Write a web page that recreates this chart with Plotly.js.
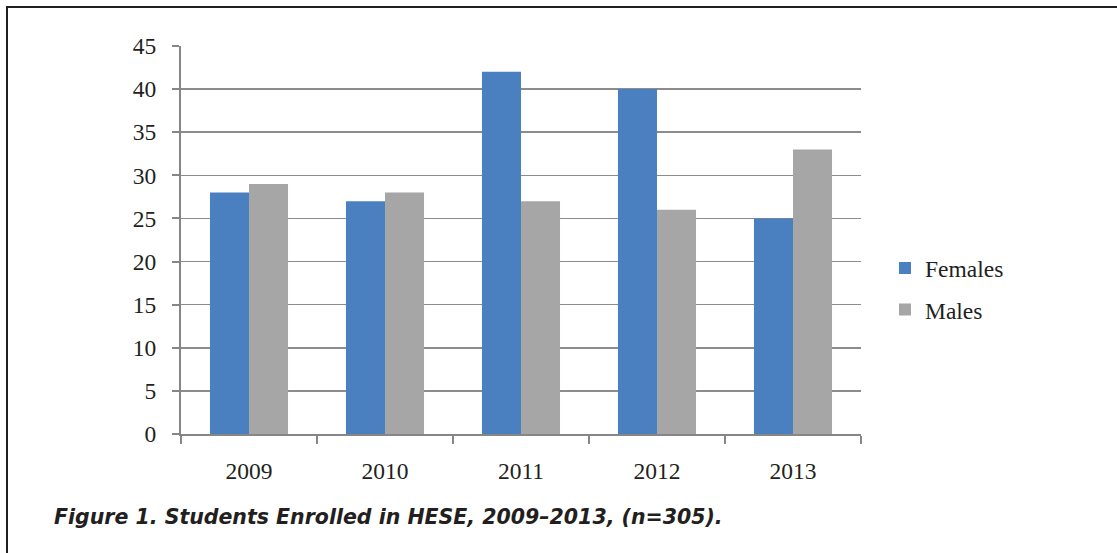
<!DOCTYPE html>
<html>
<head>
<meta charset="utf-8">
<script src="https://cdn.plot.ly/plotly-3.0.1.min.js"></script>
<style>
  html, body { margin: 0; padding: 0; background: #fff; }
  #wrap { position: relative; width: 1117px; height: 553px; overflow: hidden; }
  #chart { position: absolute; left: 0; top: 0; width: 1117px; height: 553px; }
  #frame { position: absolute; left: 6px; top: 6px; width: 1200px; height: 700px;
           border-top: 2px solid #231f20; border-left: 2px solid #231f20; pointer-events: none; }
</style>
</head>
<body>
<div id="wrap">
  <div id="chart"></div>
  <div id="frame"></div>
</div>
<script>
const years = ['2009', '2010', '2011', '2012', '2013'];
const females = [28, 27, 42, 40, 25];
const males = [29, 28, 27, 26, 33];
const yTicks = [0, 5, 10, 15, 20, 25, 30, 35, 40, 45];
const seriesNames = ['Females', 'Males'];
const captionText = 'Figure 1. Students Enrolled in HESE, 2009\u20132013, (n=305).';

const serif = 'Liberation Serif, Times New Roman, serif';
const fs = 23.5;

const traces = [
  { type: 'bar', name: seriesNames[0], x: years, y: females, legendgroup: 'f',
    marker: { color: '#4a80c0', line: { width: 0 } } },
  { type: 'bar', name: seriesNames[1], x: years, y: males, legendgroup: 'm',
    marker: { color: '#a6a6a6', line: { width: 0 } } }
];

const layout = {
  width: 1117, height: 553,
  paper_bgcolor: 'rgba(0,0,0,0)', plot_bgcolor: 'rgba(0,0,0,0)',
  margin: { l: 181, r: 256, t: 46, b: 118.5, pad: 0 },
  barmode: 'group', bargap: 0.426, bargroupgap: 0,
  showlegend: true,
  font: { family: serif, size: fs, color: '#231f20' },
  xaxis: {
    type: 'category', showgrid: false,
    showline: true, linecolor: '#868686', linewidth: 2,
    ticks: 'outside', tickson: 'boundaries', ticklen: 8, tickcolor: '#868686', tickwidth: 2,
    ticklabelstandoff: 15,
    tickfont: { family: serif, size: fs, color: '#231f20' },
    fixedrange: true
  },
  yaxis: {
    range: [0, 45], tickvals: yTicks, ticktext: yTicks.map(String),
    showgrid: true, gridcolor: '#8c8c8c', gridwidth: 1.5,
    showline: true, linecolor: '#868686', linewidth: 2,
    zeroline: false,
    ticks: 'outside', ticklen: 7, tickcolor: '#868686', tickwidth: 2,
    ticklabelstandoff: 11,
    tickfont: { family: serif, size: fs, color: '#231f20' },
    fixedrange: true
  },
  legend: {
    x: 0, xref: 'paper', y: 0.373, yanchor: 'middle',
    font: { family: serif, size: fs, color: '#231f20' },
    tracegroupgap: 8, bgcolor: 'rgba(0,0,0,0)', borderwidth: 0
  },
  annotations: [{
    xref: 'paper', yref: 'paper', x: 0, y: 0,
    xanchor: 'left', yanchor: 'middle', showarrow: false,
    text: '<b><i>' + captionText + '</i></b>',
    font: { family: 'DejaVu Sans, sans-serif', size: 20.5, color: '#231f20' }
  }]
};
// legend left edge at pixel 885
layout.legend.x = (885 - 181) / (1117 - 181 - 256);
// caption left at pixel 52, centred at y ~ 518
layout.annotations[0].x = (52 - 181) / (1117 - 181 - 256);
layout.annotations[0].y = (434.5 - 518) / (434.5 - 46);

Plotly.newPlot('chart', traces, layout, { displayModeBar: false, staticPlot: true });
</script>
</body>
</html>
